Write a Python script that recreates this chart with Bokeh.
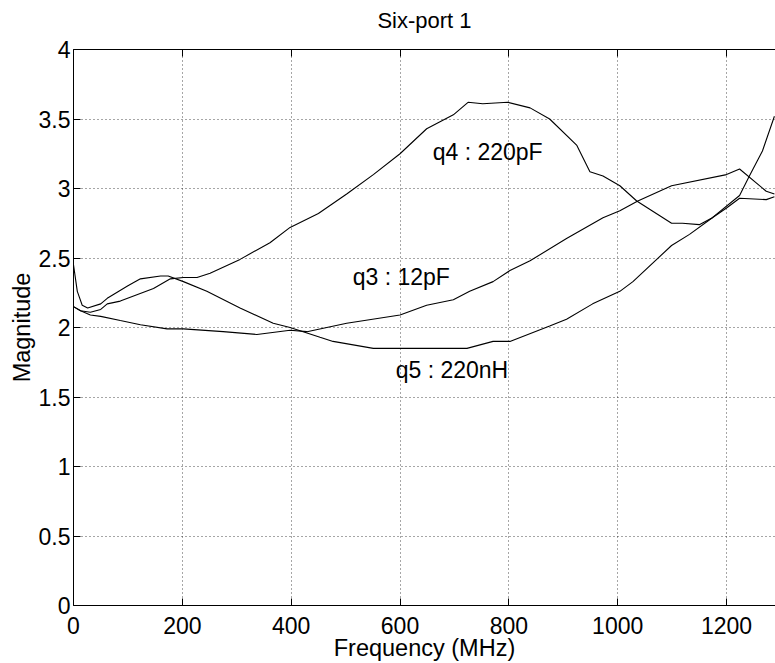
from bokeh.plotting import figure
from bokeh.models import LinearAxis, Range1d, FixedTicker, Label, CustomLabelingPolicy
from bokeh.embed import file_html
from bokeh.resources import INLINE

# ---- data ----
q4_freq = [0, 13, 31, 50, 62, 86, 147, 178, 202, 227, 251, 306, 361, 398, 450, 502, 551, 600,
           649, 698, 725, 752, 798, 839, 875, 925, 949, 973, 1004, 1035, 1099, 1119, 1150, 1174,
           1200, 1224, 1273, 1288]
q4_mag = [2.15, 2.12, 2.11, 2.13, 2.17, 2.19, 2.28, 2.35, 2.36, 2.36, 2.39, 2.49, 2.61, 2.72, 2.82,
          2.96, 3.10, 3.25, 3.43, 3.53, 3.62, 3.61, 3.62, 3.58, 3.50, 3.31, 3.12, 3.09, 3.02, 2.91,
          2.75, 2.75, 2.74, 2.79, 2.86, 2.93, 2.92, 2.94]

q3_freq = [0, 13, 31, 50, 86, 123, 172, 202, 275, 337, 398, 429, 502, 600, 649, 698, 728, 771,
           802, 839, 906, 973, 1004, 1037, 1099, 1200, 1224, 1273, 1288]
q3_mag = [2.15, 2.12, 2.09, 2.08, 2.05, 2.02, 1.99, 1.99, 1.97, 1.95, 1.98, 1.97, 2.03, 2.09,
          2.16, 2.20, 2.26, 2.33, 2.41, 2.48, 2.64, 2.79, 2.84, 2.91, 3.02, 3.10, 3.14, 2.98, 2.96]

q5_freq = [0, 7, 16, 26, 50, 62, 100, 123, 160, 174, 202, 245, 306, 367, 398, 453, 477, 551,
           624, 698, 723, 771, 802, 875, 906, 954, 1004, 1028, 1099, 1132, 1174, 1224, 1242,
           1266, 1288]
q5_mag = [2.45, 2.26, 2.16, 2.14, 2.17, 2.21, 2.30, 2.35, 2.37, 2.37, 2.33, 2.26, 2.14, 2.03,
          2.00, 1.93, 1.90, 1.85, 1.85, 1.85, 1.85, 1.90, 1.90, 2.01, 2.06, 2.17, 2.26, 2.33,
          2.59, 2.67, 2.79, 2.95, 3.09, 3.27, 3.52]

curve_labels = ["q4 : 220pF", "q3 : 12pF", "q5 : 220nH"]
label_x = [660, 513, 592]
label_y = [3.265, 2.365, 1.695]

x_ticks = [0, 200, 400, 600, 800, 1000, 1200]
y_ticks = [0, 0.5, 1, 1.5, 2, 2.5, 3, 3.5, 4]
y_tick_labels = ["0", "0.5", "1", "1.5", "2", "2.5", "3", "3.5", "4"]

FONT = "Liberation Sans"

p = figure(width=775, height=663, output_backend="svg", toolbar_location=None,
           x_range=Range1d(0, 1290), y_range=Range1d(0, 4),
           min_border_left=73, min_border_right=0, min_border_bottom=58, min_border_top=48,
           title="Six-port 1")

p.title.align = "center"
p.title.text_font = FONT
p.title.text_font_size = "22px"
p.title.text_font_style = "normal"
p.title.text_color = "black"
p.title.standoff = 11

p.outline_line_color = None
p.background_fill_color = "white"
p.border_fill_color = "white"

for ax in (p.xaxis[0], p.yaxis[0]):
    ax.major_tick_in = 7
    ax.major_tick_out = 0
    ax.minor_tick_line_color = None
    ax.axis_line_color = "black"
    ax.major_tick_line_color = "black"
    ax.major_label_text_font = FONT
    ax.major_label_text_font_size = "23px"
    ax.major_label_text_color = "black"
    ax.axis_label_text_font = FONT
    ax.axis_label_text_font_size = "23.5px"
    ax.axis_label_text_font_style = "normal"
    ax.axis_label_text_color = "black"

p.xaxis[0].ticker = FixedTicker(ticks=x_ticks)
p.yaxis[0].ticker = FixedTicker(ticks=y_ticks)
p.yaxis[0].major_label_overrides = {t: l for t, l in zip(y_ticks, y_tick_labels)}
p.xaxis[0].axis_label = "Frequency (MHz)"
p.yaxis[0].axis_label = "Magnitude"
p.xaxis[0].major_label_standoff = 11
p.xaxis[0].axis_label_standoff = -2
p.yaxis[0].major_label_standoff = 3
p.yaxis[0].axis_label_standoff = 1

top = LinearAxis(ticker=FixedTicker(ticks=x_ticks), major_tick_in=7, major_tick_out=0,
                 minor_tick_line_color=None, major_label_standoff=0, axis_line_color="black",
                 major_label_policy=CustomLabelingPolicy(code="return new Set()"))
p.add_layout(top, "above")

for g in (p.xgrid[0], p.ygrid[0]):
    g.grid_line_color = "black"
    g.grid_line_dash = "1 3"
    g.grid_line_width = 1
    g.grid_line_alpha = 0.7
p.xgrid[0].ticker = FixedTicker(ticks=x_ticks)
p.ygrid[0].ticker = FixedTicker(ticks=y_ticks)

p.line(q4_freq, q4_mag, line_color="black", line_width=1.1)
p.line(q3_freq, q3_mag, line_color="black", line_width=1.1)
p.line(q5_freq, q5_mag, line_color="black", line_width=1.1)

for t, x, y in zip(curve_labels, label_x, label_y):
    p.add_layout(Label(x=x, y=y, text=t, text_font=FONT, text_font_size="23px",
                       text_align="left", text_baseline="alphabetic", text_color="black"))

open("out.html", "w").write(file_html(p, INLINE))
